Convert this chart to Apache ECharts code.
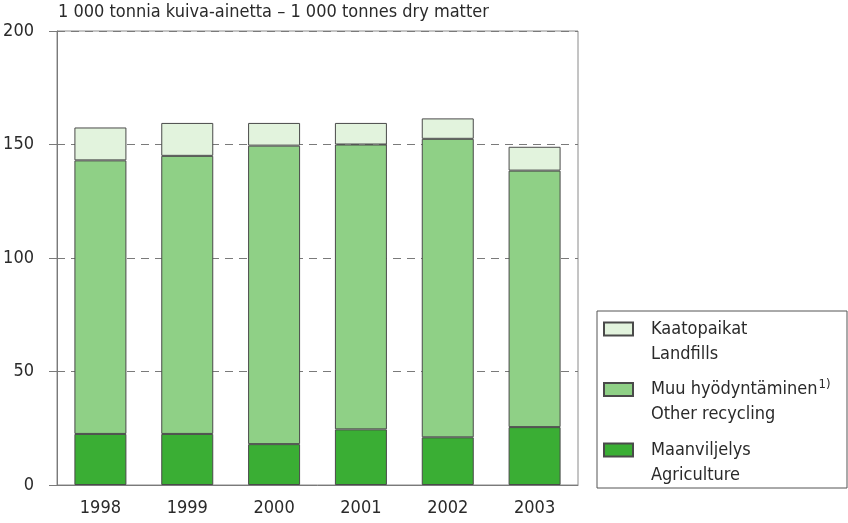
<!DOCTYPE html>
<html>
<head>
<meta charset="utf-8">
<script src="https://cdn.jsdelivr.net/npm/echarts@6/dist/echarts.min.js"></script>
<style>
  html, body { margin: 0; padding: 0; background: #fff; }
  #main { width: 848px; height: 523px; }
</style>
</head>
<body>
<div id="main"></div>
<script>
  // vuodet / years
  var years = ['1998', '1999', '2000', '2001', '2002', '2003'];
  // 1 000 t kuiva-ainetta
  var maanviljelys = [22.5, 22.5, 18, 24.5, 21, 25.5];
  var muuHyodyntaminen = [120.5, 122.5, 131.5, 125.5, 131.5, 113];
  var kaatopaikat = [14.5, 14.5, 10, 9.5, 9, 10.5];
  var yTicks = [0, 50, 100, 150, 200];
  // selitteen englanninkieliset rivit
  var legendNames = ['Kaatopaikat', 'Muu hyödyntäminen', 'Maanviljelys'];
  var legendEnglish = ['Landfills', 'Other recycling', 'Agriculture'];

  var font = '"Liberation Sans Narrow", "DejaVu Sans Condensed", sans-serif';
  var edge = '#4a4a4a';
  var txt = '#2a2a2a';

  var chart = echarts.init(document.getElementById('main'));

  // legendin toinen rivi tekstinä
  var englishLines = legendEnglish.map(function (s, i) {
    return {
      type: 'text',
      left: 651,
      top: 345 + i * 60.5,
      silent: true,
      style: { text: s, font: '18px ' + font, fill: txt }
    };
  });

  var option = {
    animation: false,
    textStyle: { fontFamily: font },
    title: {
      text: '1 000 tonnia kuiva-ainetta \u2013 1 000 tonnes dry matter',
      left: 58,
      top: 3,
      padding: 0,
      textStyle: { fontFamily: font, fontSize: 18, fontWeight: 'normal', color: txt }
    },
    grid: {
      left: 57,
      top: 31,
      right: 270,
      bottom: 38,
      show: true,
      borderColor: '#8a8a8a',
      borderWidth: 1
    },
    xAxis: {
      type: 'category',
      data: years,
      axisLine: { lineStyle: { color: '#7a7a7a', width: 1 } },
      axisTick: { show: false },
      axisLabel: { margin: 14, fontSize: 18, color: txt, fontFamily: font }
    },
    yAxis: {
      type: 'value',
      min: yTicks[0],
      max: yTicks[yTicks.length - 1],
      interval: 50,
      axisLine: { show: true, lineStyle: { color: '#7a7a7a', width: 1 } },
      axisTick: { show: true, length: 8, lineStyle: { color: '#7a7a7a' } },
      axisLabel: { margin: 23, fontSize: 18, color: txt, fontFamily: font },
      splitLine: { show: true, lineStyle: { color: '#7a7a7a', type: [8, 6], width: 1 } }
    },
    legend: {
      orient: 'vertical',
      left: 603,
      top: 316,
      padding: 0,
      icon: 'rect',
      itemWidth: 29,
      itemHeight: 13,
      itemGap: 34.5,
      data: legendNames,
      formatter: function (name) {
        if (name === 'Muu hyödyntäminen') return '{a|Muu hyödyntäminen}{s|1)}';
        return '{a|' + name + '}';
      },
      textStyle: {
        lineHeight: 26,
        rich: {
          a: { fontSize: 18, lineHeight: 26, padding: [0, 0, 0, 13], color: txt, fontFamily: font },
          s: { fontSize: 13, lineHeight: 26, verticalAlign: 'top', padding: [2, 0, 0, 1], color: txt, fontFamily: font }
        }
      }
    },
    graphic: [{
      type: 'rect',
      shape: { x: 597, y: 311, width: 250, height: 177 },
      style: { fill: 'none', stroke: '#555', lineWidth: 1 },
      silent: true
    }].concat(englishLines),
    series: [{
      name: 'Maanviljelys',
      type: 'bar',
      stack: 'total',
      barWidth: 52,
      data: maanviljelys,
      itemStyle: { color: '#3aae34', borderColor: edge, borderWidth: 1 }
    }, {
      name: 'Muu hyödyntäminen',
      type: 'bar',
      stack: 'total',
      barWidth: 52,
      data: muuHyodyntaminen,
      itemStyle: { color: '#8fd086', borderColor: edge, borderWidth: 1 }
    }, {
      name: 'Kaatopaikat',
      type: 'bar',
      stack: 'total',
      barWidth: 52,
      data: kaatopaikat,
      itemStyle: { color: '#e2f3dd', borderColor: edge, borderWidth: 1 }
    }]
  };

  chart.setOption(option);
</script>
</body>
</html>
